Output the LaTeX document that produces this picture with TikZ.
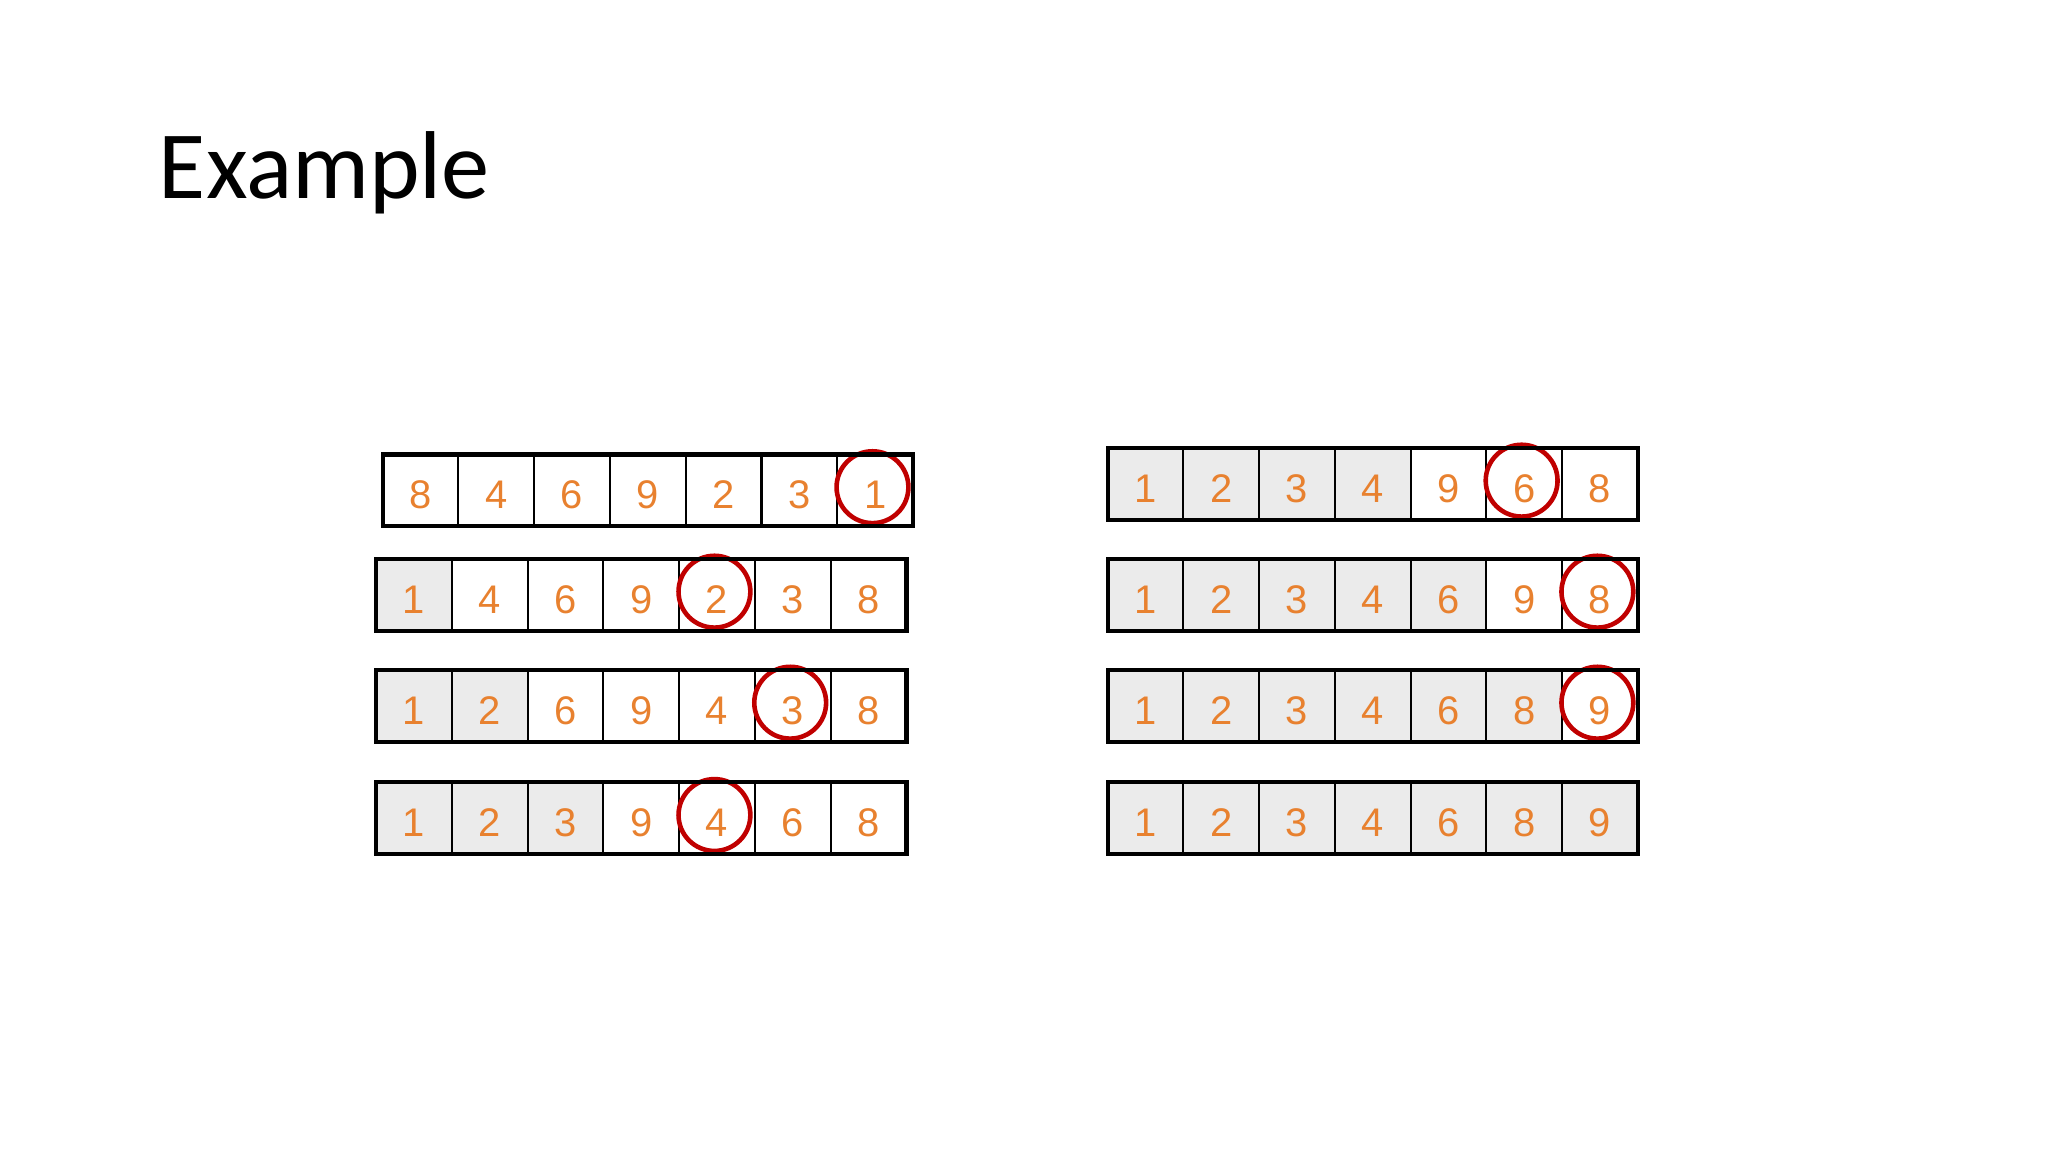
\documentclass[tikz,border=0pt]{standalone}
\usepackage{fontspec}
\setmainfont{Liberation Sans}
\newfontfamily\titlefont{Carlito}
\definecolor{dig}{HTML}{E8812F}
\definecolor{cellgray}{HTML}{EBEBEB}
\definecolor{circ}{HTML}{C00000}
\tikzset{
  digit/.style={text=dig,font=\fontsize{8.7}{9}\selectfont,inner sep=0pt},
  mark circle/.style={draw=circ,line width=1pt,circle,minimum size=5.5mm,inner sep=0pt},
  cellline/.style={line width=0.45pt},
  rowframe/.style={line width=0.9pt}
}
% #1 x0, #2 y0, #3 list, #4 gray count, #5 circled index, #6 name
\newcommand{\arrrow}[6]{%
  \foreach \v [count=\i] in {#3} {
    \pgfmathsetmacro{\xa}{#1+(\i-1)*58}
    \ifnum\i>#4\relax\else
      \fill[cellgray] (\xa,#2) rectangle ++(58,55);
    \fi
    \ifnum\i>1\relax \draw[cellline] (\xa,#2) -- ++(0,55); \fi
    \node[digit] (#6c\i) at (\xa+29,#2+31) {\v};
    \ifnum\i=#5\relax
      \node[mark circle] (#6m) at (\xa+27,#2+25) {};
    \fi
  }
  \draw[rowframe] (#1,#2) rectangle ++(406,55);
}
\begin{document}
\begin{tikzpicture}[x=0.1mm,y=-0.1mm]
\useasboundingbox (0,0) rectangle (1568,882);
\node[anchor=base west,inner sep=0pt,font=\titlefont\fontsize{21}{24}\selectfont] (title) at (121,152) {Example};
\arrrow{293}{348}{8,4,6,9,2,3,1}{0}{7}{la}
\arrrow{288}{428}{1,4,6,9,2,3,8}{1}{5}{lb}
\arrrow{288}{513}{1,2,6,9,4,3,8}{2}{6}{lc}
\arrrow{288}{599}{1,2,3,9,4,6,8}{3}{5}{ld}
\arrrow{848}{343}{1,2,3,4,9,6,8}{4}{6}{ra}
\arrrow{848}{428}{1,2,3,4,6,9,8}{5}{7}{rb}
\arrrow{848}{513}{1,2,3,4,6,8,9}{6}{7}{rc}
\arrrow{848}{599}{1,2,3,4,6,8,9}{7}{0}{rd}
\end{tikzpicture}
\end{document}
